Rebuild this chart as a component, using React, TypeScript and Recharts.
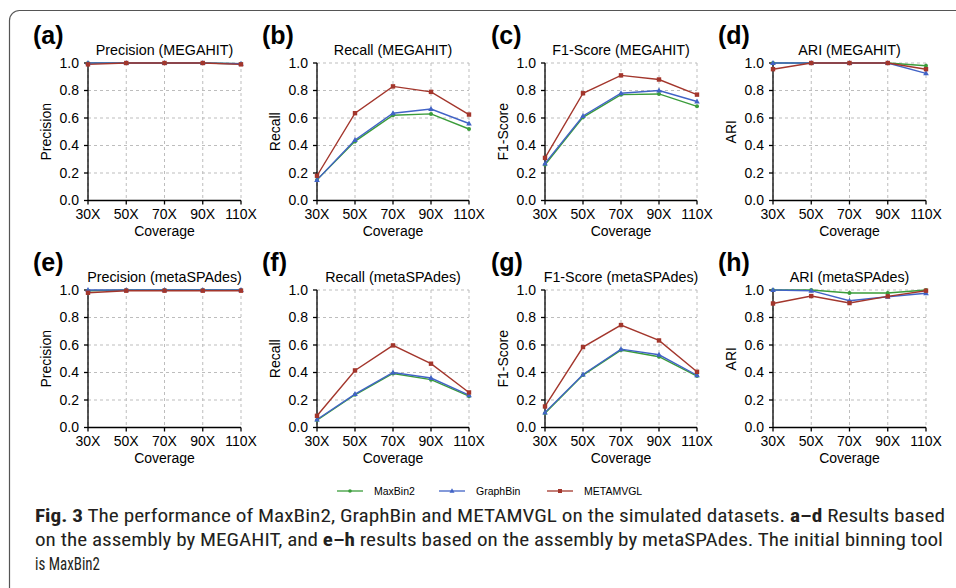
import { LineChart, Line, XAxis, YAxis, CartesianGrid } from "recharts"

const GREEN = "#3a9c3a"
const BLUE = "#4163c6"
const RED = "#a3362c"

const coverage = ["30X", "50X", "70X", "90X", "110X"]
const yTicks = [0, 0.2, 0.4, 0.6, 0.8, 1.0]

// MEGAHIT
const precMegahitMaxBin2 = [1.0, 1.0, 1.0, 1.0, 0.995]
const precMegahitGraphBin = [1.0, 1.0, 1.0, 1.0, 0.995]
const precMegahitMetamvgl = [0.99, 1.0, 1.0, 1.0, 0.99]

const recMegahitMaxBin2 = [0.15, 0.43, 0.62, 0.63, 0.52]
const recMegahitGraphBin = [0.15, 0.44, 0.635, 0.665, 0.56]
const recMegahitMetamvgl = [0.18, 0.635, 0.83, 0.79, 0.625]

const f1MegahitMaxBin2 = [0.26, 0.605, 0.77, 0.775, 0.685]
const f1MegahitGraphBin = [0.27, 0.615, 0.78, 0.8, 0.72]
const f1MegahitMetamvgl = [0.31, 0.78, 0.91, 0.88, 0.77]

const ariMegahitMaxBin2 = [1.0, 1.0, 1.0, 1.0, 0.98]
const ariMegahitGraphBin = [1.0, 1.0, 1.0, 1.0, 0.925]
const ariMegahitMetamvgl = [0.955, 1.0, 1.0, 1.0, 0.955]

// metaSPAdes
const precSpadesMaxBin2 = [0.995, 1.0, 1.0, 1.0, 1.0]
const precSpadesGraphBin = [1.0, 1.0, 1.0, 1.0, 1.0]
const precSpadesMetamvgl = [0.98, 0.995, 0.995, 0.995, 0.995]

const recSpadesMaxBin2 = [0.053, 0.238, 0.393, 0.348, 0.228]
const recSpadesGraphBin = [0.058, 0.243, 0.4, 0.36, 0.235]
const recSpadesMetamvgl = [0.085, 0.415, 0.597, 0.464, 0.255]

const f1SpadesMaxBin2 = [0.104, 0.381, 0.563, 0.515, 0.374]
const f1SpadesGraphBin = [0.11, 0.386, 0.57, 0.529, 0.38]
const f1SpadesMetamvgl = [0.153, 0.585, 0.745, 0.633, 0.405]

const ariSpadesMaxBin2 = [1.0, 1.0, 0.978, 0.978, 1.0]
const ariSpadesGraphBin = [1.0, 0.995, 0.922, 0.951, 0.976]
const ariSpadesMetamvgl = [0.902, 0.956, 0.905, 0.954, 0.995]

const panels = [
  { tag: "(a)", title: "Precision (MEGAHIT)", yLabel: "Precision", row: 0, col: 0, m: precMegahitMaxBin2, g: precMegahitGraphBin, r: precMegahitMetamvgl },
  { tag: "(b)", title: "Recall (MEGAHIT)", yLabel: "Recall", row: 0, col: 1, m: recMegahitMaxBin2, g: recMegahitGraphBin, r: recMegahitMetamvgl },
  { tag: "(c)", title: "F1-Score (MEGAHIT)", yLabel: "F1-Score", row: 0, col: 2, m: f1MegahitMaxBin2, g: f1MegahitGraphBin, r: f1MegahitMetamvgl },
  { tag: "(d)", title: "ARI (MEGAHIT)", yLabel: "ARI", row: 0, col: 3, m: ariMegahitMaxBin2, g: ariMegahitGraphBin, r: ariMegahitMetamvgl },
  { tag: "(e)", title: "Precision (metaSPAdes)", yLabel: "Precision", row: 1, col: 0, m: precSpadesMaxBin2, g: precSpadesGraphBin, r: precSpadesMetamvgl },
  { tag: "(f)", title: "Recall (metaSPAdes)", yLabel: "Recall", row: 1, col: 1, m: recSpadesMaxBin2, g: recSpadesGraphBin, r: recSpadesMetamvgl },
  { tag: "(g)", title: "F1-Score (metaSPAdes)", yLabel: "F1-Score", row: 1, col: 2, m: f1SpadesMaxBin2, g: f1SpadesGraphBin, r: f1SpadesMetamvgl },
  { tag: "(h)", title: "ARI (metaSPAdes)", yLabel: "ARI", row: 1, col: 3, m: ariSpadesMaxBin2, g: ariSpadesGraphBin, r: ariSpadesMetamvgl },
]

// plot-area geometry
const colLeft = [88, 317, 545, 773]
const colRight = [241, 469, 697, 926]
const rowTop = [63, 290]
const PLOT_H = 137.5
const tagX = [33, 262, 491, 718]

const FONT = "'Liberation Sans', Arial, Helvetica, sans-serif"
const CAPTION_FONT = "'Roboto Condensed', 'DejaVu Sans Condensed', sans-serif"

const circleDot = (p: any) => <circle key={`c${p.index}`} cx={p.cx} cy={p.cy} r={2} fill={GREEN} />
const triDot = (p: any) => (
  <path key={`t${p.index}`} d={`M${p.cx},${p.cy - 3}L${p.cx + 2.8},${p.cy + 2}L${p.cx - 2.8},${p.cy + 2}Z`} fill={BLUE} />
)
const squareDot = (p: any) => (
  <rect key={`s${p.index}`} x={p.cx - 2.2} y={p.cy - 2.2} width={4.4} height={4.4} fill={RED} />
)

function Panel({ p }: { p: (typeof panels)[number] }) {
  const left = colLeft[p.col]
  const plotW = colRight[p.col] - left
  const top = rowTop[p.row]
  const W = 60 + plotW + 20
  const H = 30 + PLOT_H + 45
  const data = coverage.map((c, i) => ({ x: c, maxbin2: p.m[i], graphbin: p.g[i], metamvgl: p.r[i] }))
  return (
    <div style={{ position: "absolute", left: left - 60, top: top - 30, fontFamily: FONT }}>
      <LineChart width={W} height={H} data={data} margin={{ top: 30, right: 20, bottom: 5, left: 0 }}>
        <CartesianGrid stroke="#bdbdbd" strokeDasharray="3 3" />
        <XAxis
          dataKey="x"
          height={40}
          interval={0}
          tick={{ fill: "#000", fontSize: 14 }}
          tickSize={4}
          tickMargin={5}
          stroke="#000"
          strokeWidth={1.3}
        />
        <YAxis
          domain={[0, 1]}
          ticks={yTicks}
          width={60}
          tick={{ fill: "#000", fontSize: 14 }}
          tickFormatter={(v: number) => v.toFixed(1)}
          tickSize={4}
          tickMargin={5}
          stroke="#000"
          strokeWidth={1.3}
        />
        <Line dataKey="maxbin2" stroke={GREEN} strokeWidth={1.4} dot={circleDot} isAnimationActive={false} />
        <Line dataKey="graphbin" stroke={BLUE} strokeWidth={1.4} dot={triDot} isAnimationActive={false} />
        <Line dataKey="metamvgl" stroke={RED} strokeWidth={1.4} dot={squareDot} isAnimationActive={false} />
      </LineChart>
    </div>
  )
}

const legendItems = [
  { name: "MaxBin2", color: GREEN, x: 337, dot: "circle" },
  { name: "GraphBin", color: BLUE, x: 439, dot: "tri" },
  { name: "METAMVGL", color: RED, x: 547, dot: "square" },
]

function Overlay() {
  const ly = 491
  return (
    <svg width={956} height={588} style={{ position: "absolute", left: 0, top: 0, pointerEvents: "none" }}>
      <rect x={9.5} y={10.5} width={1000} height={700} rx={10} fill="none" stroke="#555" strokeWidth={1.2} />
      {panels.map((p) => {
        const l = colLeft[p.col]
        const r = colRight[p.col]
        const cx = (l + r) / 2
        const t = rowTop[p.row]
        const b = t + PLOT_H
        return (
          <g key={p.tag} fontFamily={FONT} fill="#000">
            <text x={tagX[p.col]} y={t - 19} fontSize={25} fontWeight="bold">{p.tag}</text>
            <text x={cx} y={t - 8} fontSize={14.3} textAnchor="middle">{p.title}</text>
            <text
              x={l - 42}
              y={(t + b) / 2}
              fontSize={14}
              textAnchor="middle"
              dominantBaseline="central"
              transform={`rotate(-90 ${l - 42} ${(t + b) / 2})`}
            >
              {p.yLabel}
            </text>
            <text x={cx} y={b + 35} fontSize={14} textAnchor="middle">Coverage</text>
          </g>
        )
      })}
      {legendItems.map((it) => {
        const mx = it.x + 13
        return (
          <g key={it.name}>
            <line x1={it.x} x2={it.x + 26} y1={ly} y2={ly} stroke={it.color} strokeWidth={1.3} />
            {it.dot === "circle" && <circle cx={mx} cy={ly} r={1.8} fill={it.color} />}
            {it.dot === "tri" && <path d={`M${mx},${ly - 2.8}L${mx + 2.5},${ly + 1.8}L${mx - 2.5},${ly + 1.8}Z`} fill={it.color} />}
            {it.dot === "square" && <rect x={mx - 2} y={ly - 2} width={4} height={4} fill={it.color} />}
            <text x={it.x + 37} y={ly + 4} fontSize={10.5} fontFamily={FONT} fill="#000">{it.name}</text>
          </g>
        )
      })}
      <g fontFamily={CAPTION_FONT} fontSize={17.5} fill="#231f20">
        <text x={35} y={522} textLength={910} lengthAdjust="spacingAndGlyphs">
          <tspan fontWeight="bold">Fig. 3</tspan>
          <tspan>{"  The performance of MaxBin2, GraphBin and METAMVGL on the simulated datasets. "}</tspan>
          <tspan fontWeight="bold">a–d</tspan>
          <tspan> Results based</tspan>
        </text>
        <text x={35} y={546} textLength={908} lengthAdjust="spacingAndGlyphs">
          <tspan>{"on the assembly by MEGAHIT, and "}</tspan>
          <tspan fontWeight="bold">e–h</tspan>
          <tspan> results based on the assembly by metaSPAdes. The initial binning tool</tspan>
        </text>
        <text x={35} y={570} textLength={65} lengthAdjust="spacingAndGlyphs">is MaxBin2</text>
      </g>
    </svg>
  )
}

export default function App() {
  return (
    <div style={{ position: "absolute", left: 0, top: 0, width: 956, height: 588, background: "#fff", overflow: "hidden" }}>
      {panels.map((p) => (
        <Panel key={p.tag} p={p} />
      ))}
      <Overlay />
    </div>
  )
}
